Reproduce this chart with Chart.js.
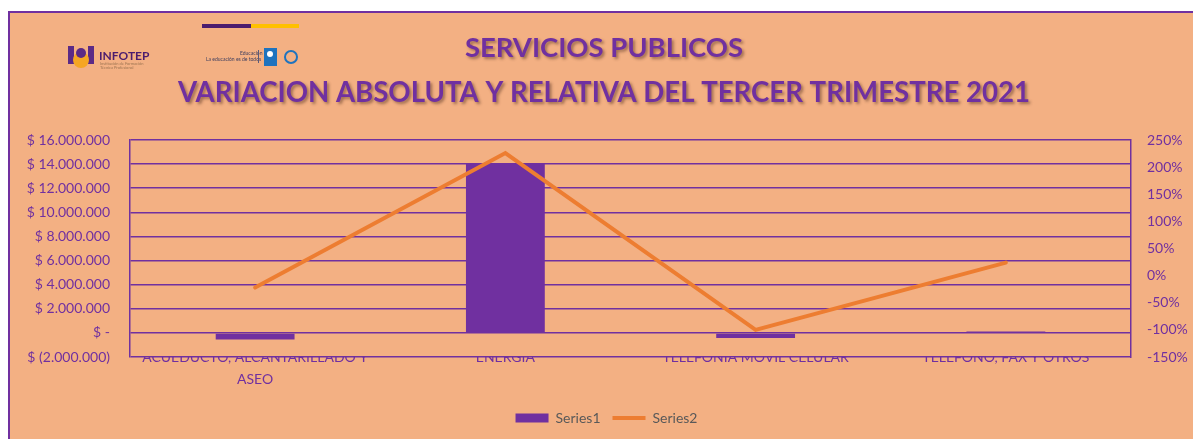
<!DOCTYPE html>
<html>
<head>
<meta charset="utf-8">
<script src="https://cdn.jsdelivr.net/npm/chart.js@4.4.1/dist/chart.umd.min.js"></script>
<style>
  html, body { margin: 0; padding: 0; background: #ffffff; }
  #wrap { width: 1193px; height: 439px; position: relative; }
</style>
</head>
<body>
<div id="wrap"><canvas id="c" width="1193" height="439"></canvas></div>
<script>
// ---- Data ----
const categories = [["ACUEDUCTO, ALCANTARILLADO Y", "ASEO"], "ENERGÍA", "TELEFONÍA MÓVIL CELULAR", "TELÉFONO, FAX Y OTROS"];
const series1 = [-540000, 14050000, -420000, 110000];   // variación absoluta ($)
const series2 = [-0.22, 2.26, -1.00, 0.24];            // variación relativa (%)
const seriesNames = ["Series1", "Series2"];
const titleLines = ["SERVICIOS PUBLICOS", "VARIACION ABSOLUTA Y RELATIVA DEL TERCER TRIMESTRE 2021"];

// ---- Styles ----
const PURPLE = '#7030A0';
const ORANGE = '#ED7D31';
const BG = '#F3B083';
const FONT = 'Lato, "Open Sans", sans-serif';

function fmtMoney(v) {
  if (Math.abs(v) < 1) return '$ -';
  const s = String(Math.abs(Math.round(v))).replace(/\B(?=(\d{3})+(?!\d))/g, '.');
  return v < 0 ? '$ (' + s + ')' : '$ ' + s;
}
function fmtPct(v) { return Math.round(v * 100) + '%'; }

const decorPlugin = {
  id: 'decor',
  beforeDraw(chart) {
    const ctx = chart.ctx;
    ctx.save();
    ctx.fillStyle = '#ffffff';
    ctx.fillRect(0, 0, chart.width, chart.height);
    ctx.fillStyle = BG;
    ctx.fillRect(8, 12, chart.width - 8, chart.height - 12);
    ctx.fillStyle = PURPLE;
    ctx.fillRect(8, 11, chart.width - 8, 2);
    ctx.fillRect(8, 11, 2, chart.height - 11);
    // top colour bar
    ctx.fillStyle = '#4B1C6E';
    ctx.fillRect(202, 24, 49, 4);
    ctx.fillStyle = '#FFC000';
    ctx.fillRect(251, 24, 48, 4);
    // INFOTEP logo (approximate)
    ctx.fillStyle = '#5B2A86';
    ctx.fillRect(68, 46, 6, 18);
    ctx.fillRect(88, 46, 6, 18);
    ctx.fillStyle = '#F5A623';
    ctx.beginPath(); ctx.arc(81, 60, 8, 0, Math.PI * 2); ctx.fill();
    ctx.fillStyle = '#5B2A86';
    ctx.beginPath(); ctx.arc(81, 53, 5, 0, Math.PI * 2); ctx.fill();
    ctx.fillStyle = '#4B1C6E';
    ctx.font = 'bold 12px ' + FONT;
    ctx.textBaseline = 'alphabetic';
    ctx.fillText('INFOTEP', 99, 60);
    ctx.fillStyle = 'rgba(120,90,60,0.7)';
    ctx.font = '4px ' + FONT;
    ctx.fillText('Institución de Formación', 100, 65);
    ctx.fillText('Técnica Profesional', 100, 69);
    // second logo group
    ctx.fillStyle = '#3E3E5E';
    ctx.font = '5px ' + FONT;
    ctx.fillText('Educación', 240, 55);
    ctx.fillText('La educación es de todos', 206, 61);
    ctx.fillStyle = '#5A5A7A';
    ctx.fillRect(258, 50, 1, 13);
    ctx.fillStyle = '#1E73BE';
    ctx.fillRect(264, 48, 13, 18);
    ctx.fillStyle = '#ffffff';
    ctx.beginPath(); ctx.arc(270, 54, 3, 0, Math.PI * 2); ctx.fill();
    ctx.strokeStyle = '#1E73BE';
    ctx.lineWidth = 2;
    ctx.beginPath(); ctx.arc(291, 57, 6, 0, Math.PI * 2); ctx.stroke();
    // title text with shadow
    const drawFit = (txt, cx, baseline, size, targetW) => {
      ctx.font = 'bold ' + size + 'px ' + FONT;
      const w = ctx.measureText(txt).width;
      const sx = targetW / w;
      ctx.save();
      ctx.translate(cx, baseline);
      ctx.scale(sx, 1);
      ctx.textAlign = 'center';
      ctx.textBaseline = 'alphabetic';
      ctx.shadowColor = 'rgba(60,30,20,0.45)';
      ctx.shadowOffsetX = 2; ctx.shadowOffsetY = 2; ctx.shadowBlur = 3;
      ctx.fillStyle = PURPLE;
      ctx.fillText(txt, 0, 0);
      ctx.restore();
    };
    drawFit(titleLines[0], 604, 57, 27, 278);
    drawFit(titleLines[1], 604, 102, 28, 852);
    ctx.restore();
  }
};

new Chart(document.getElementById('c'), {
  data: {
    labels: categories,
    datasets: [
      {
        type: 'bar',
        label: seriesNames[0],
        data: series1,
        backgroundColor: PURPLE,
        borderColor: PURPLE,
        borderWidth: 0,
        yAxisID: 'y',
        order: 1,
        categoryPercentage: 1,
        barPercentage: 0.315
      },
      {
        type: 'line',
        label: seriesNames[1],
        data: series2,
        borderColor: ORANGE,
        backgroundColor: ORANGE,
        borderWidth: 4,
        pointRadius: 0,
        pointHoverRadius: 0,
        tension: 0,
        borderCapStyle: 'round',
        yAxisID: 'y1',
        order: 0
      }
    ]
  },
  options: {
    responsive: false,
    animation: false,
    devicePixelRatio: 1,
    layout: { padding: { top: 140, left: 20, right: 0, bottom: 4 } },
    plugins: {
      title: { display: false },
      tooltip: { enabled: false },
      legend: {
        position: 'bottom',
        labels: {
          usePointStyle: true,
          pointStyleWidth: 33,
          boxHeight: 9,
          padding: 12,
          color: '#595959',
          font: { family: FONT, size: 14 },
          sort: (a, b) => a.datasetIndex - b.datasetIndex,
          generateLabels(chart) {
            const items = Chart.defaults.plugins.legend.labels.generateLabels(chart);
            items.forEach(it => {
              const ds = chart.data.datasets[it.datasetIndex];
              if (ds.type === 'line') {
                it.pointStyle = 'line';
                it.strokeStyle = ORANGE;
                it.lineWidth = 4;
              } else {
                it.pointStyle = 'rect';
                it.fillStyle = PURPLE;
                it.strokeStyle = PURPLE;
                it.lineWidth = 0;
              }
            });
            return items;
          }
        }
      }
    },
    scales: {
      x: {
        position: 'bottom',
        grid: { display: false, drawTicks: false },
        border: { display: false },
        ticks: {
          color: PURPLE,
          font: { family: FONT, size: 14, lineHeight: 1.6 },
          padding: -11,
          maxRotation: 0,
          autoSkip: false
        },
        afterFit(scale) { scale.height = 42; }
      },
      y: {
        position: 'left',
        min: -2000000,
        max: 16000000,
        ticks: {
          stepSize: 2000000,
          color: PURPLE,
          font: { family: FONT, size: 14 },
          padding: 20,
          callback: (v) => fmtMoney(v)
        },
        grid: { color: PURPLE, lineWidth: 1.5, drawTicks: false },
        border: { display: true, color: PURPLE, width: 1.5 },
        afterFit(scale) { scale.width = 110; }
      },
      y1: {
        position: 'right',
        min: -1.5,
        max: 2.5,
        ticks: {
          stepSize: 0.5,
          color: PURPLE,
          font: { family: FONT, size: 14 },
          padding: 16,
          callback: (v) => fmtPct(v)
        },
        grid: { display: false, drawTicks: false },
        border: { display: true, color: PURPLE, width: 1.5 },
        afterFit(scale) { scale.width = 62; }
      }
    }
  },
  plugins: [decorPlugin]
});
</script>
</body>
</html>
